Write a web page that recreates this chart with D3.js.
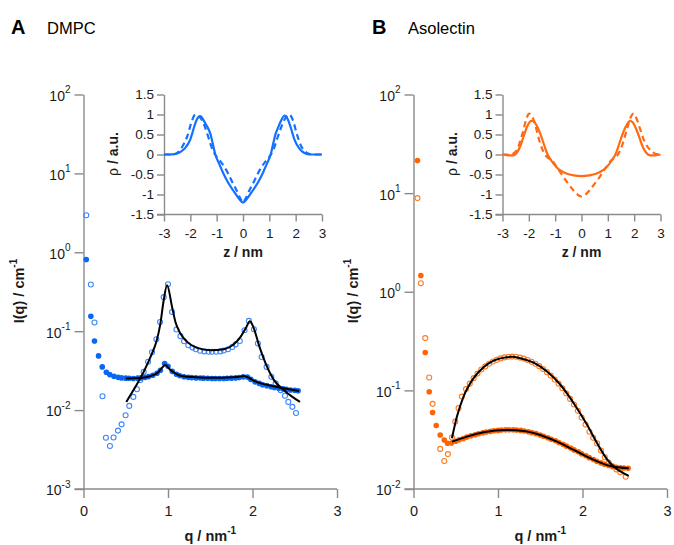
<!DOCTYPE html>
<html>
<head>
<meta charset="utf-8">
<script src="https://cdn.jsdelivr.net/npm/d3@7"></script>
<style>
  html, body { margin: 0; padding: 0; background: #fff; }
  svg { display: block; font-family: "Liberation Sans", Arial, Helvetica, sans-serif; }
</style>
</head>
<body>
<script>
// ---------- DMPC scattering data (q in nm^-1, I in cm^-1) ----------
const dmpcOpenQ = [0.033,0.087,0.130,0.225,0.265,0.313,0.356,0.408,0.451,0.498,0.542,0.590,0.633,0.673,0.712,0.764,0.811,0.862,0.906,0.949,1.000,1.048,1.100,1.147,1.19,1.24,1.29,1.33,1.38,1.43,1.48,1.52,1.57,1.62,1.66,1.71,1.76,1.80,1.85,1.906,1.957,2.017,2.064,2.108,2.167,2.223,2.274,2.333,2.384,2.424,2.472,2.515];
const dmpcOpenI = [2.95,0.39,0.129,0.015,0.00447,0.0035,0.0045,0.0055,0.0066,0.0086,0.0113,0.0147,0.0184,0.024,0.0305,0.041,0.054,0.079,0.131,0.27,0.394,0.175,0.105,0.0865,0.0747,0.0665,0.062,0.059,0.0565,0.0555,0.055,0.055,0.055,0.0555,0.057,0.059,0.063,0.068,0.075,0.103,0.135,0.106,0.0698,0.047,0.0353,0.0264,0.0218,0.0179,0.0152,0.0127,0.011,0.0092];

const dmpcFilledQ = [0.033,0.087,0.130,0.178,0.222,0.27,0.31,0.36,0.41,0.45,0.50,0.54,0.59,0.64,0.68,0.73,0.77,0.82,0.87,0.91,0.96,1.00,1.05,1.10,1.14,1.19,1.24,1.28,1.33,1.38,1.42,1.47,1.52,1.56,1.61,1.66,1.70,1.75,1.80,1.84,1.89,1.94,1.98,2.03,2.08,2.12,2.17,2.22,2.26,2.31,2.36,2.40,2.45,2.50,2.54];
const dmpcFilledI = [0.81,0.155,0.075,0.0486,0.0353,0.0302,0.0282,0.0268,0.026,0.0256,0.0254,0.0253,0.0252,0.0254,0.0256,0.026,0.0266,0.0276,0.0293,0.032,0.039,0.036,0.031,0.0285,0.0272,0.0265,0.026,0.0258,0.0256,0.0255,0.0254,0.0253,0.0252,0.0252,0.0252,0.0252,0.0253,0.0254,0.0256,0.0259,0.0264,0.0262,0.0245,0.0228,0.0218,0.021,0.0204,0.0198,0.0193,0.0189,0.0186,0.0183,0.018,0.0178,0.0176];

const dmpcFitUpperQ = [0.507,0.614,0.712,0.811,0.862,0.91,0.949,0.989,1.048,1.088,1.147,1.226,1.345,1.503,1.66,1.78,1.859,1.918,1.97,2.017,2.076,2.155,2.254,2.372,2.472,2.562];
const dmpcFitUpperI = [0.0127,0.0197,0.0305,0.0522,0.0733,0.125,0.247,0.382,0.203,0.131,0.0935,0.0733,0.0615,0.0575,0.0592,0.0684,0.0847,0.108,0.134,0.108,0.0665,0.039,0.024,0.0179,0.0147,0.0127];
const dmpcFitLowerQ = [0.5,0.6,0.7,0.8,0.88,0.93,0.97,1.02,1.1,1.2,1.3,1.5,1.7,1.82,1.9,1.96,2.02,2.1,2.25,2.4,2.55];
const dmpcFitLowerI = [0.0252,0.0253,0.0257,0.0272,0.030,0.0345,0.0372,0.033,0.0286,0.0266,0.0262,0.0257,0.0258,0.0262,0.027,0.0255,0.0234,0.0218,0.0201,0.0187,0.0175];

// DMPC density profiles (z in nm, rho in a.u.)
const dmpcRhoSolidZ = [-3,-2.8,-2.6,-2.45,-2.3,-2.2,-2.0,-1.85,-1.75,-1.62,-1.5,-1.4,-1.3,-1.24,-1.15,-1.06,-0.9,-0.74,-0.55,-0.37,-0.18,0,0.18,0.37,0.55,0.74,0.9,1.06,1.15,1.24,1.3,1.4,1.58,1.7,1.8,1.95,2.15,2.3,2.45,2.6,2.8,3];
const dmpcRhoSolid  = [0,0,0.01,0.04,0.1,0.16,0.38,0.7,0.88,0.96,0.86,0.74,0.62,0.52,0.28,0.02,-0.24,-0.48,-0.72,-0.9,-1.08,-1.2,-1.08,-0.9,-0.72,-0.48,-0.24,0.02,0.28,0.52,0.62,0.78,0.97,0.88,0.7,0.38,0.14,0.05,0.01,0,0,0];
const dmpcRhoDashZ = [-3,-2.7,-2.5,-2.3,-2.12,-1.95,-1.81,-1.7,-1.55,-1.43,-1.3,-1.18,-1.06,-0.95,-0.87,-0.7,-0.56,-0.4,-0.24,-0.1,0,0.1,0.24,0.4,0.56,0.7,0.87,0.95,1.06,1.18,1.3,1.45,1.6,1.76,1.9,2.05,2.2,2.35,2.5,2.7,3];
const dmpcRhoDash  = [0,0,0.04,0.2,0.45,0.82,1.0,0.97,0.85,0.66,0.4,0.16,0.0,-0.1,-0.16,-0.32,-0.48,-0.7,-0.9,-1.1,-1.2,-1.1,-0.9,-0.7,-0.48,-0.32,-0.16,-0.1,0.0,0.16,0.4,0.68,0.9,1.0,0.85,0.5,0.22,0.08,0.02,0,0];

// ---------- Asolectin scattering data ----------
const asoOpenQ = [0.047,0.087,0.139,0.186,0.226,0.316,0.364,0.407,0.455,0.494,0.533,0.573,0.621,0.666,0.712,0.757,0.803,0.849,0.894,0.94,0.986,1.031,1.077,1.123,1.168,1.214,1.26,1.305,1.351,1.397,1.442,1.488,1.534,1.579,1.625,1.671,1.716,1.762,1.808,1.853,1.899,1.945,1.99,2.036,2.082,2.127,2.173,2.219,2.264,2.31,2.356,2.401,2.447,2.511];
const asoOpenI = [8.9,1.22,0.339,0.135,0.073,0.0255,0.0192,0.0226,0.0332,0.0482,0.066,0.0865,0.103,0.117,0.133,0.148,0.163,0.175,0.186,0.196,0.204,0.211,0.216,0.219,0.22,0.219,0.215,0.21,0.203,0.195,0.186,0.176,0.165,0.153,0.141,0.129,0.117,0.105,0.093,0.082,0.072,0.062,0.053,0.045,0.038,0.033,0.029,0.0245,0.021,0.0185,0.017,0.0158,0.0148,0.0133];

const asoFilledQ = [0.047,0.087,0.139,0.186,0.226,0.269,0.316,0.364,0.403,0.45,0.50,0.54,0.59,0.63,0.68,0.73,0.77,0.82,0.86,0.91,0.95,1.00,1.04,1.09,1.13,1.18,1.22,1.27,1.31,1.36,1.40,1.45,1.50,1.54,1.59,1.63,1.68,1.72,1.77,1.81,1.86,1.90,1.95,1.99,2.04,2.08,2.13,2.17,2.22,2.26,2.31,2.36,2.40,2.45,2.49,2.54];
const asoFilledI = [21.4,1.46,0.242,0.097,0.0596,0.044,0.0353,0.0314,0.0291,0.0293,0.0305,0.0315,0.0325,0.0336,0.0346,0.0355,0.0363,0.0372,0.0378,0.0384,0.0389,0.0393,0.0396,0.0398,0.0399,0.0399,0.0397,0.0393,0.0388,0.0381,0.0373,0.0364,0.0353,0.0343,0.0331,0.032,0.0308,0.0296,0.0284,0.0272,0.026,0.0249,0.0238,0.0227,0.0217,0.0208,0.0199,0.0191,0.0184,0.0178,0.0173,0.0169,0.0166,0.0164,0.0163,0.0162];

const asoFitUpperQ = [0.455,0.514,0.592,0.711,0.829,0.948,1.107,1.166,1.264,1.422,1.58,1.738,1.896,2.054,2.173,2.291,2.38,2.547];
const asoFitUpperI = [0.0327,0.0542,0.0865,0.133,0.172,0.2,0.217,0.219,0.212,0.191,0.155,0.114,0.0741,0.0447,0.0291,0.02,0.0166,0.0136];
const asoFitLowerQ = [0.455,0.633,0.829,1.107,1.304,1.5,1.698,1.896,2.093,2.33,2.547];
const asoFitLowerI = [0.0302,0.034,0.0377,0.0397,0.0388,0.0353,0.0302,0.0249,0.0205,0.0171,0.0162];

// Asolectin density profiles
const asoRhoSolidZ = [-3,-2.8,-2.6,-2.45,-2.3,-2.2,-2.05,-1.9,-1.82,-1.7,-1.6,-1.5,-1.4,-1.3,-1.15,-0.93,-0.75,-0.55,-0.3,0,0.3,0.55,0.75,0.93,1.15,1.3,1.4,1.5,1.6,1.72,1.84,1.95,2.1,2.2,2.32,2.45,2.6,2.8,3];
const asoRhoSolid  = [0,-0.02,-0.02,0.05,0.25,0.45,0.72,0.84,0.83,0.72,0.58,0.4,0.2,0.02,-0.15,-0.33,-0.42,-0.48,-0.52,-0.54,-0.52,-0.48,-0.42,-0.33,-0.15,0.02,0.2,0.4,0.58,0.74,0.84,0.8,0.6,0.42,0.2,0.05,-0.02,-0.02,0];
const asoRhoDashZ = [-3,-2.7,-2.46,-2.3,-2.21,-2.1,-1.98,-1.85,-1.7,-1.58,-1.44,-1.3,-1.12,-0.9,-0.68,-0.5,-0.3,-0.15,0,0.15,0.3,0.5,0.68,0.9,1.12,1.3,1.44,1.58,1.72,1.86,1.98,2.1,2.22,2.33,2.5,2.64,2.8,3];
const asoRhoDash  = [0,0,0.1,0.4,0.6,0.88,1.02,0.92,0.6,0.3,0.06,-0.07,-0.15,-0.35,-0.57,-0.73,-0.9,-1.0,-1.05,-1.0,-0.9,-0.73,-0.57,-0.35,-0.15,-0.07,0.06,0.3,0.62,0.92,1.02,0.88,0.65,0.43,0.2,0.1,0.02,0];

// ---------- axis tick values ----------
const qTicks = [0, 1, 2, 3];
const dmpcDecades = [-3, -2, -1, 0, 1, 2];
const asoDecades = [-2, -1, 0, 1, 2];
const zTicks = [-3, -2, -1, 0, 1, 2, 3];
const rhoTicks = [-1.5, -1, -0.5, 0, 0.5, 1, 1.5];

const BLUE = "#0a66f5", BLUE_OPEN = "#3d86fb", BLUE_LINE = "#1470ff";
const ORANGE = "#ff6400", ORANGE_OPEN = "#ff7a20", ORANGE_LINE = "#ff6a12";
const AXIS = "#8a8a8a", TEXT = "#1a1a1a";

const W = 674, H = 545;
const svg = d3.select("body").append("svg").attr("width", W).attr("height", H);
svg.append("rect").attr("width", W).attr("height", H).attr("fill", "#fff");

const zip = (a, b) => a.map((v, i) => [v, b[i]]);

function styleAxis(g) {
  g.select(".domain").attr("stroke", AXIS).attr("stroke-width", 1.4);
  g.selectAll(".tick line").attr("stroke", AXIS).attr("stroke-width", 1.4);
  g.selectAll(".tick text").attr("fill", TEXT);
}

function drawPanel(o) {
  const x = d3.scaleLinear().domain([0, 3]).range([o.x0, o.x0 + 253.5]);
  const y = d3.scaleLog().domain([Math.pow(10, o.decades[0]), 100]).range([489, 94.5]);

  // panel title
  svg.append("text").attr("x", o.titleX).attr("y", 34).attr("font-size", 20)
    .attr("font-weight", "bold").attr("fill", "#000").text(o.letter);
  svg.append("text").attr("x", o.titleX + 36).attr("y", 34).attr("font-size", 16.5)
    .attr("fill", "#000").text(o.name);

  // log y axis with 10^n labels
  const gy = svg.append("g").attr("transform", `translate(${o.x0},0)`)
    .call(d3.axisLeft(y).tickValues(o.decades.map(d => Math.pow(10, d)))
      .tickSize(9).tickSizeOuter(0).tickFormat(() => ""));
  styleAxis(gy);
  gy.selectAll(".tick").each(function (d) {
    const t = d3.select(this).select("text").text(null)
      .attr("x", -13).attr("dy", "0.42em").attr("font-size", 14).attr("text-anchor", "end");
    t.append("tspan").text("10");
    t.append("tspan").attr("font-size", 10).attr("dy", "-0.75em")
      .text(Math.round(Math.log10(d)).toString());
  });

  // q axis
  const gx = svg.append("g").attr("transform", "translate(0,489)")
    .call(d3.axisBottom(x).tickValues(qTicks).tickSize(9).tickSizeOuter(0)
      .tickFormat(d3.format("d")));
  styleAxis(gx);
  gx.selectAll(".tick text").attr("font-size", 14.5).attr("dy", "1.05em");
  gx.select(".domain").attr("d", `M${o.x0 - 9},0H${x(3)}`);

  // axis titles
  const xl = svg.append("text").attr("x", (x(0) + x(3)) / 2).attr("y", 541)
    .attr("text-anchor", "middle").attr("font-size", 14.5).attr("font-weight", "bold").attr("fill", TEXT);
  xl.append("tspan").text("q / nm");
  xl.append("tspan").attr("font-size", 10).attr("dy", "-0.7em").text("-1");
  const yl = svg.append("text").attr("transform", `translate(${o.yLabelX},291) rotate(-90)`)
    .attr("text-anchor", "middle").attr("font-size", 14.5).attr("font-weight", "bold").attr("fill", TEXT);
  yl.append("tspan").text("I(q) / cm");
  yl.append("tspan").attr("font-size", 10).attr("dy", "-0.7em").text("-1");

  // data: open circles, filled circles, fits
  const plot = svg.append("g");
  plot.selectAll("circle.open").data(zip(o.openQ, o.openI)).join("circle")
    .attr("class", "open").attr("cx", d => x(d[0])).attr("cy", d => y(d[1])).attr("r", 2.5)
    .attr("fill", "none").attr("stroke", o.openColor).attr("stroke-width", 1.1);
  plot.selectAll("circle.filled").data(zip(o.filledQ, o.filledI)).join("circle")
    .attr("class", "filled").attr("cx", d => x(d[0])).attr("cy", d => y(d[1])).attr("r", 2.8)
    .attr("fill", o.filledColor);
  const line = d3.line().x(d => x(d[0])).y(d => y(d[1])).curve(d3.curveMonotoneX);
  [[o.fitUQ, o.fitUI], [o.fitLQ, o.fitLI]].forEach(([q, I]) => {
    plot.append("path").attr("d", line(zip(q, I))).attr("fill", "none")
      .attr("stroke", "#000").attr("stroke-width", 2);
  });

  // inset: electron density profile
  const ix = d3.scaleLinear().domain([-3, 3]).range([o.insetX0, o.insetX0 + 158]);
  const iy = d3.scaleLinear().domain([-1.5, 1.5]).range([214.5, 94.5]);
  const giy = svg.append("g").attr("transform", `translate(${o.insetX0},0)`)
    .call(d3.axisLeft(iy).tickValues(rhoTicks).tickSize(7).tickSizeOuter(0)
      .tickFormat(d => d3.format("")(d)));
  styleAxis(giy);
  giy.selectAll(".tick text").attr("font-size", 13.5).attr("x", -10).text(d => String(d).replace("-", "-"));
  const gix = svg.append("g").attr("transform", "translate(0,214.5)")
    .call(d3.axisBottom(ix).tickValues(zTicks).tickSize(7).tickSizeOuter(0).tickFormat(d3.format("d")));
  styleAxis(gix);
  gix.selectAll(".tick text").attr("font-size", 13.5).attr("dy", "1.0em").text(d => String(d));
  gix.select(".domain").attr("d", `M${o.insetX0 - 7},0H${ix(3)}`);

  svg.append("text").attr("x", (ix(-3) + ix(3)) / 2).attr("y", 257).attr("text-anchor", "middle")
    .attr("font-size", 14).attr("font-weight", "bold").attr("fill", TEXT).text("z / nm");
  const rl = svg.append("text").attr("transform", `translate(${o.insetX0 - 46},154) rotate(-90)`)
    .attr("text-anchor", "middle").attr("font-size", 14).attr("fill", TEXT);
  rl.append("tspan").text("ρ");
  rl.append("tspan").attr("font-weight", "bold").text(" / a.u.");

  const iline = d3.line().x(d => ix(d[0])).y(d => iy(d[1])).curve(d3.curveMonotoneX);
  svg.append("path").attr("d", iline(zip(o.rhoDZ, o.rhoD))).attr("fill", "none")
    .attr("stroke", o.lineColor).attr("stroke-width", 2.2).attr("stroke-dasharray", "6,4");
  svg.append("path").attr("d", iline(zip(o.rhoSZ, o.rhoS))).attr("fill", "none")
    .attr("stroke", o.lineColor).attr("stroke-width", 2.2);
}

drawPanel({
  letter: "A", name: "DMPC", titleX: 11, x0: 83.5, decades: dmpcDecades, yLabelX: 24,
  openQ: dmpcOpenQ, openI: dmpcOpenI, filledQ: dmpcFilledQ, filledI: dmpcFilledI,
  fitUQ: dmpcFitUpperQ, fitUI: dmpcFitUpperI, fitLQ: dmpcFitLowerQ, fitLI: dmpcFitLowerI,
  openColor: BLUE_OPEN, filledColor: BLUE, lineColor: BLUE_LINE,
  insetX0: 164, rhoSZ: dmpcRhoSolidZ, rhoS: dmpcRhoSolid, rhoDZ: dmpcRhoDashZ, rhoD: dmpcRhoDash
});

drawPanel({
  letter: "B", name: "Asolectin", titleX: 372, x0: 413.5, decades: asoDecades, yLabelX: 358,
  openQ: asoOpenQ, openI: asoOpenI, filledQ: asoFilledQ, filledI: asoFilledI,
  fitUQ: asoFitUpperQ, fitUI: asoFitUpperI, fitLQ: asoFitLowerQ, fitLI: asoFitLowerI,
  openColor: ORANGE_OPEN, filledColor: ORANGE, lineColor: ORANGE_LINE,
  insetX0: 502.5, rhoSZ: asoRhoSolidZ, rhoS: asoRhoSolid, rhoDZ: asoRhoDashZ, rhoD: asoRhoDash
});
</script>
</body>
</html>
